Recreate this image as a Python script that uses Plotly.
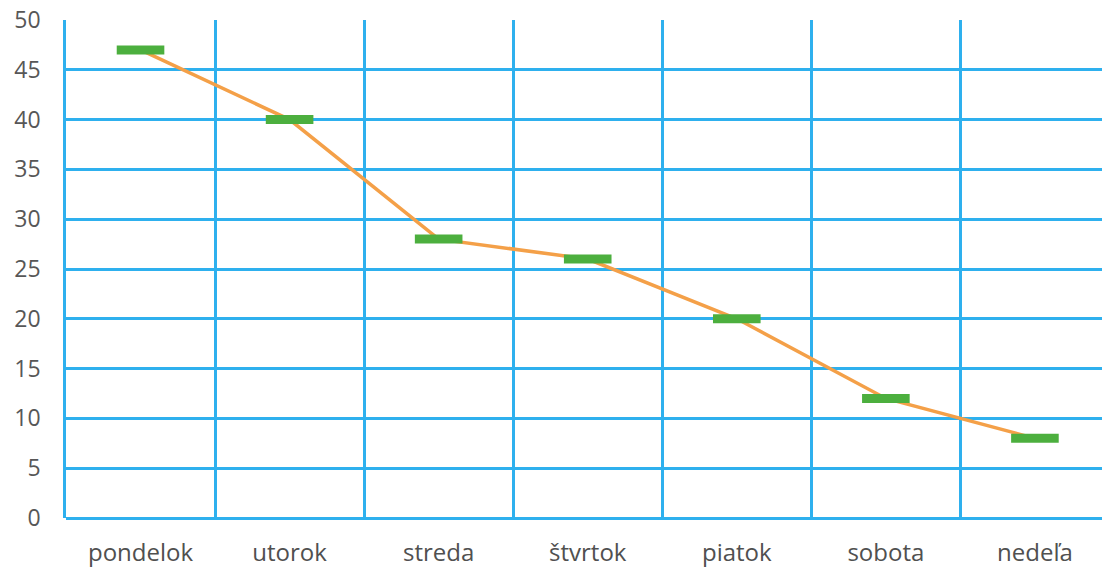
import plotly.graph_objects as go

days = ["pondelok", "utorok", "streda", "štvrtok", "piatok", "sobota", "nedeľa"]
values = [47, 40, 28, 26, 20, 12, 8]
y_ticks = [0, 5, 10, 15, 20, 25, 30, 35, 40, 45, 50]

grid_color = "#2eb0ee"
fig = go.Figure()
fig.add_trace(go.Scatter(
    x=days, y=values, mode="lines+markers",
    line=dict(color="#f4a048", width=3.5),
    marker=dict(symbol="line-ew", size=34, color="#4caf3e",
                line=dict(color="#4caf3e", width=9)),
    showlegend=False, hoverinfo="x+y",
))
fig.update_layout(
    width=1102, height=571,
    margin=dict(l=66, r=0, t=20, b=53),
    paper_bgcolor="white", plot_bgcolor="white",
    font=dict(family="Open Sans", color="#5a5a5a"),
)
fig.update_xaxes(
    type="category", range=[-0.5, 6.45], tickson="boundaries",
    showgrid=True, gridcolor=grid_color, gridwidth=2.5,
    showline=False, zeroline=False, ticks="",
    tickfont=dict(size=24, color="#505050"), ticklabelstandoff=18,
)
fig.update_yaxes(
    range=[0, 50], tickvals=y_ticks,
    showgrid=True, gridcolor=grid_color, gridwidth=2.5,
    zeroline=True, zerolinecolor=grid_color, zerolinewidth=2.5,
    showline=True, linecolor=grid_color, linewidth=2.5, ticks="",
    tickfont=dict(size=23, color="#575757"), ticklabelstandoff=18,
)
fig.write_html("out.html")
